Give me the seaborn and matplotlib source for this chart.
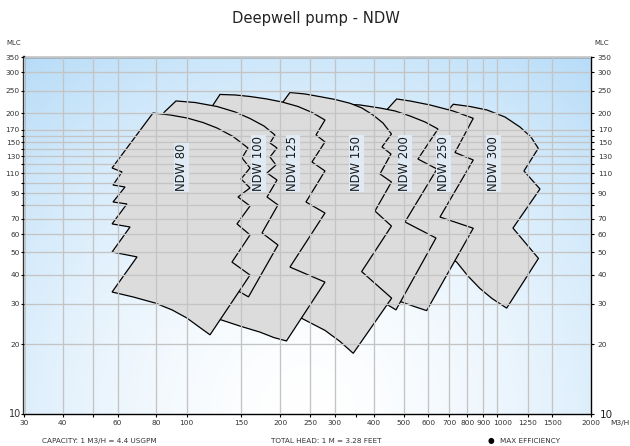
import numpy as np
import matplotlib
matplotlib.use("Agg")
import matplotlib.pyplot as plt
import matplotlib.transforms as mtransforms
import seaborn as sns
from matplotlib.ticker import FixedLocator, FixedFormatter, NullFormatter, NullLocator

sns.set_theme(style="white")
plt.rcParams["font.family"] = ["DejaVu Sans"]

# ---------------- data ----------------
title = "Deepwell pump - NDW"
pump_names = ["NDW 80", "NDW 100", "NDW 125", "NDW 150", "NDW 200", "NDW 250", "NDW 300"]

# field outlines: capacity Q (m3/h) and head H (m)
ndw80_q = [78.0, 88.5, 100.3, 112.9, 125.3, 141.1, 157.6, 150.8, 160.0, 149.7, 160.0, 146.4, 160.0,
           145.3, 160.0, 140.0, 160.0, 119.0, 108.8, 100.3, 89.8, 79.2, 67.2, 57.6, 69.3, 57.6,
           65.8, 57.6, 64.3, 58.0, 63.4, 58.0, 62.0, 57.6]
ndw80_h = [200.4, 196.5, 190.7, 182.3, 172.6, 158.6, 141.5, 128.0, 115.9, 103.9, 95.0, 86.8, 79.4,
           66.4, 59.5, 45.4, 39.9, 22.0, 24.0, 26.0, 28.2, 30.2, 32.1, 33.7, 47.8, 50.2,
           64.4, 66.4, 81.0, 82.6, 95.9, 97.8, 111.4, 115.9]

ndw100_q = [92.5, 106.4, 125.3, 143.2, 160.0, 177.5, 192.5, 185.5, 195.4, 185.5, 193.9, 181.5,
            195.4, 181.5, 196.8, 174.9, 196.8, 158.2, 148.6, 123.5, 98.8, 76.3, 76.3, 85.2]
ndw100_h = [225.9, 222.5, 213.8, 202.5, 189.7, 176.0, 161.0, 148.7, 141.5, 129.3, 119.4, 110.3,
            102.8, 86.8, 80.2, 60.7, 53.8, 32.1, 33.7, 36.1, 39.1, 42.8, 169.2, 203.4]

ndw125_q = [128.1, 143.2, 160.0, 181.5, 202.8, 228.3, 253.2, 278.8, 260.9, 278.8, 253.2, 278.8,
            242.2, 278.8, 215.1, 278.8, 209.6, 191.1, 172.3, 148.6, 126.2, 110.5, 102.6, 106.4,
            110.5, 121.7]
ndw125_h = [241.0, 239.8, 236.2, 230.4, 223.6, 213.8, 201.5, 186.9, 161.0, 150.2, 123.0, 112.5,
            82.6, 74.0, 43.2, 37.2, 20.7, 21.4, 22.6, 24.0, 25.8, 27.6, 29.0, 84.3,
            177.8, 217.1]

ndw150_q = [215.1, 240.4, 268.7, 300.2, 335.4, 366.6, 397.8, 428.4, 456.2, 425.3, 454.5, 419.0,
            456.2, 403.7, 456.2, 365.8, 456.9, 343.7, 311.5, 278.8, 235.1, 207.3, 178.8, 185.5, 204.3]
ndw150_h = [245.8, 242.2, 235.8, 229.3, 220.8, 210.6, 196.5, 181.4, 162.6, 142.9, 133.2, 109.2,
            100.8, 75.5, 65.0, 41.3, 31.7, 18.3, 20.6, 23.0, 25.9, 27.9, 30.2, 177.8, 223.6]

ndw200_q = [318.5, 361.2, 419.0, 468.2, 523.2, 584.7, 643.9, 555.1, 639.1, 504.2, 634.4, 471.7,
            444.5, 389.0, 335.4, 300.2, 306.9]
ndw200_h = [219.2, 217.1, 210.6, 204.5, 194.5, 183.3, 170.9, 126.7, 114.7, 67.7, 57.7, 28.2,
            29.6, 32.1, 34.0, 35.4, 177.8]

ndw250_q = [474.1, 523.2, 606.8, 719.6, 836.2, 730.3, 836.2, 653.5, 836.2, 592.1, 542.9, 492.0,
            434.8, 394.8, 403.7, 440.3]
ndw250_h = [230.4, 225.9, 217.1, 204.5, 190.1, 135.2, 125.5, 71.1, 63.6, 28.0, 29.1, 30.5,
            32.7, 34.7, 169.2, 206.5]

ndw300_q = [721.2, 816.0, 925.4, 1057.4, 1181.7, 1282.0, 1353.3, 1217.2, 1370.5, 1122.0, 1355.3,
            1070.8, 960.4, 878.7, 804.0, 739.6, 653.5, 584.7, 606.8, 695.0]
ndw300_h = [218.6, 213.8, 206.5, 192.6, 174.3, 157.8, 141.0, 112.5, 94.0, 63.7, 47.1,
            28.7, 31.6, 34.9, 39.5, 45.4, 51.2, 53.8, 169.2, 206.5]

label_q = [96.5, 170.0, 220.0, 352.6, 504.2, 669.7, 969.7]
label_h = 92.0

x_ticks = [30, 40, 50, 60, 80, 100, 150, 200, 250, 300, 400, 500, 600, 700, 800, 900,
           1000, 1250, 1500, 2000]
x_tick_labels = ["30", "40", "", "60", "80", "100", "150", "200", "250", "300", "400", "500",
                 "600", "700", "800", "900", "", "1250", "1500", "2000"]
x_shifted_label = ("1000", 1000)
x_minor_ticks = [350]
y_ticks = [10, 20, 30, 40, 50, 60, 70, 80, 90, 100, 110, 120, 130, 140, 150, 160, 170,
           200, 250, 300, 350]
y_tick_labels = ["", "20", "30", "40", "50", "60", "70", "", "90", "", "110", "", "130", "",
                 "150", "", "170", "200", "250", "300", "350"]

footer_capacity = "CAPACITY: 1 M3/H = 4.4 USGPM"
footer_head = "TOTAL HEAD: 1 M = 3.28 FEET"
footer_eff = "MAX EFFICIENCY"

fields = {
    "NDW 80": (ndw80_q, ndw80_h),
    "NDW 100": (ndw100_q, ndw100_h),
    "NDW 125": (ndw125_q, ndw125_h),
    "NDW 150": (ndw150_q, ndw150_h),
    "NDW 200": (ndw200_q, ndw200_h),
    "NDW 250": (ndw250_q, ndw250_h),
    "NDW 300": (ndw300_q, ndw300_h),
}

# ---------------- figure ----------------
W, H = 630, 446
fig = plt.figure(figsize=(W / 100, H / 100), dpi=100)
fig.patch.set_facecolor("white")
pos = [24 / W, 1 - 414 / H, (591 - 24) / W, (414 - 57) / H]

# background gradient (white at bottom centre -> light blue at the corners)
bg = fig.add_axes(pos, zorder=0)
u = np.linspace(0, 1, 400)
v = np.linspace(0, 1, 260)
U, V = np.meshgrid(u, v)
pw, ph = 567.0, 357.0
d = np.sqrt(((U - 0.5) * pw) ** 2 + (V * ph) ** 2) / np.hypot(pw / 2, ph)
t = np.clip(d, 0, 1) ** 1.6
c0 = np.array([1.0, 1.0, 1.0])
c1 = np.array([183, 220, 248]) / 255.0
img = c0 + (c1 - c0) * t[..., None]
bg.imshow(img, extent=[0, 1, 0, 1], origin="lower", aspect="auto", interpolation="bilinear")
bg.set_axis_off()

ax = fig.add_axes(pos, zorder=1)
ax.set_facecolor("none")
ax.set_xscale("log")
ax.set_yscale("log")

for name in reversed(pump_names):
    q, h = fields[name]
    ax.fill(q, h, facecolor="#dcdcdc", edgecolor="black", linewidth=0.9, zorder=2,
            joinstyle="miter")

for name, lq in zip(pump_names, label_q):
    ax.text(lq, label_h, name, rotation=90, ha="center", va="bottom", fontsize=8.4,
            color="#1a1a1a", zorder=6,
            bbox=dict(boxstyle="square,pad=0.08", facecolor="#dfeaf4", edgecolor="none"))

ax.set_xlim(30, 2000)
ax.set_ylim(10, 350)
ax.xaxis.set_major_locator(FixedLocator(x_ticks))
ax.xaxis.set_major_formatter(FixedFormatter(x_tick_labels))
ax.xaxis.set_minor_locator(FixedLocator(x_minor_ticks))
ax.xaxis.set_minor_formatter(NullFormatter())
ax.yaxis.set_major_locator(FixedLocator(y_ticks))
ax.yaxis.set_major_formatter(FixedFormatter(y_tick_labels))
ax.yaxis.set_minor_locator(NullLocator())
ax.set_axisbelow(False)
ax.grid(True, which="major", color="#c4c4c4", linewidth=0.95)
ax.grid(False, which="minor")

ax.tick_params(axis="both", which="both", direction="out", length=2.4, width=0.8,
               color="black", labelsize=5.3, labelcolor="#333333")
ax.tick_params(axis="x", which="both", bottom=True, top=False, pad=2)
ax.tick_params(axis="y", which="both", left=True, right=False, labelleft=True, pad=0.6)

# the "1000" label sits a little right of its tick, as in the original
lab_tr = mtransforms.offset_copy(
    mtransforms.blended_transform_factory(ax.transData, ax.transAxes),
    fig=fig, x=5.5, y=-8.6, units="dots")
ax.text(x_shifted_label[1], 0, x_shifted_label[0], transform=lab_tr, ha="center", va="center",
        fontsize=5.3, color="#333333", clip_on=False)

for side, sp in ax.spines.items():
    sp.set_visible(True)
    sp.set_color("black")
    sp.set_linewidth(1.0)
ax.spines["left"].set_linewidth(1.7)
ax.spines["left"].set_color("#333333")

ax2 = ax.twinx()
ax2.set_yscale("log")
ax2.set_ylim(10, 350)
ax2.yaxis.set_major_locator(FixedLocator(y_ticks))
ax2.yaxis.set_major_formatter(FixedFormatter(y_tick_labels))
ax2.yaxis.set_minor_locator(NullLocator())
ax2.tick_params(axis="y", which="both", right=True, left=False, labelright=True,
                direction="out", length=2.4, width=0.8, color="black", labelsize=5.3,
                labelcolor="#333333", pad=2.5)
ax2.grid(False)
for sp in ax2.spines.values():
    sp.set_visible(False)

# text around the plot
fig.text(0.5008, 1 - 18 / H, title, ha="center", va="center", fontsize=10.6, color="#222222")
fig.text(13.3 / W, 1 - 43 / H, "MLC", ha="center", va="center", fontsize=5.0, color="#333333")
fig.text(601.7 / W, 1 - 43 / H, "MLC", ha="center", va="center", fontsize=5.0, color="#333333")
fig.text(15.3 / W, 1 - 413.7 / H, "10", ha="center", va="center", fontsize=7, color="#333333")
fig.text(606 / W, 1 - 415.5 / H, "10", ha="center", va="center", fontsize=7.5, color="#222222")
fig.text(619.5 / W, 1 - 423 / H, "M3/H", ha="center", va="center", fontsize=5.4, color="#333333")
fig.text(99.5 / W, 1 - 441 / H, footer_capacity, ha="center", va="center", fontsize=5.2,
         color="#333333")
fig.text(326.7 / W, 1 - 441 / H, footer_head, ha="center", va="center", fontsize=5.2,
         color="#333333")
fig.text(490.5 / W, 1 - 441 / H, "\u25CF", ha="center", va="center", fontsize=5.5,
         color="black")
fig.text(500 / W, 1 - 441 / H, footer_eff, ha="left", va="center", fontsize=5.2,
         color="#333333")

fig.savefig("out.png", dpi=100)
